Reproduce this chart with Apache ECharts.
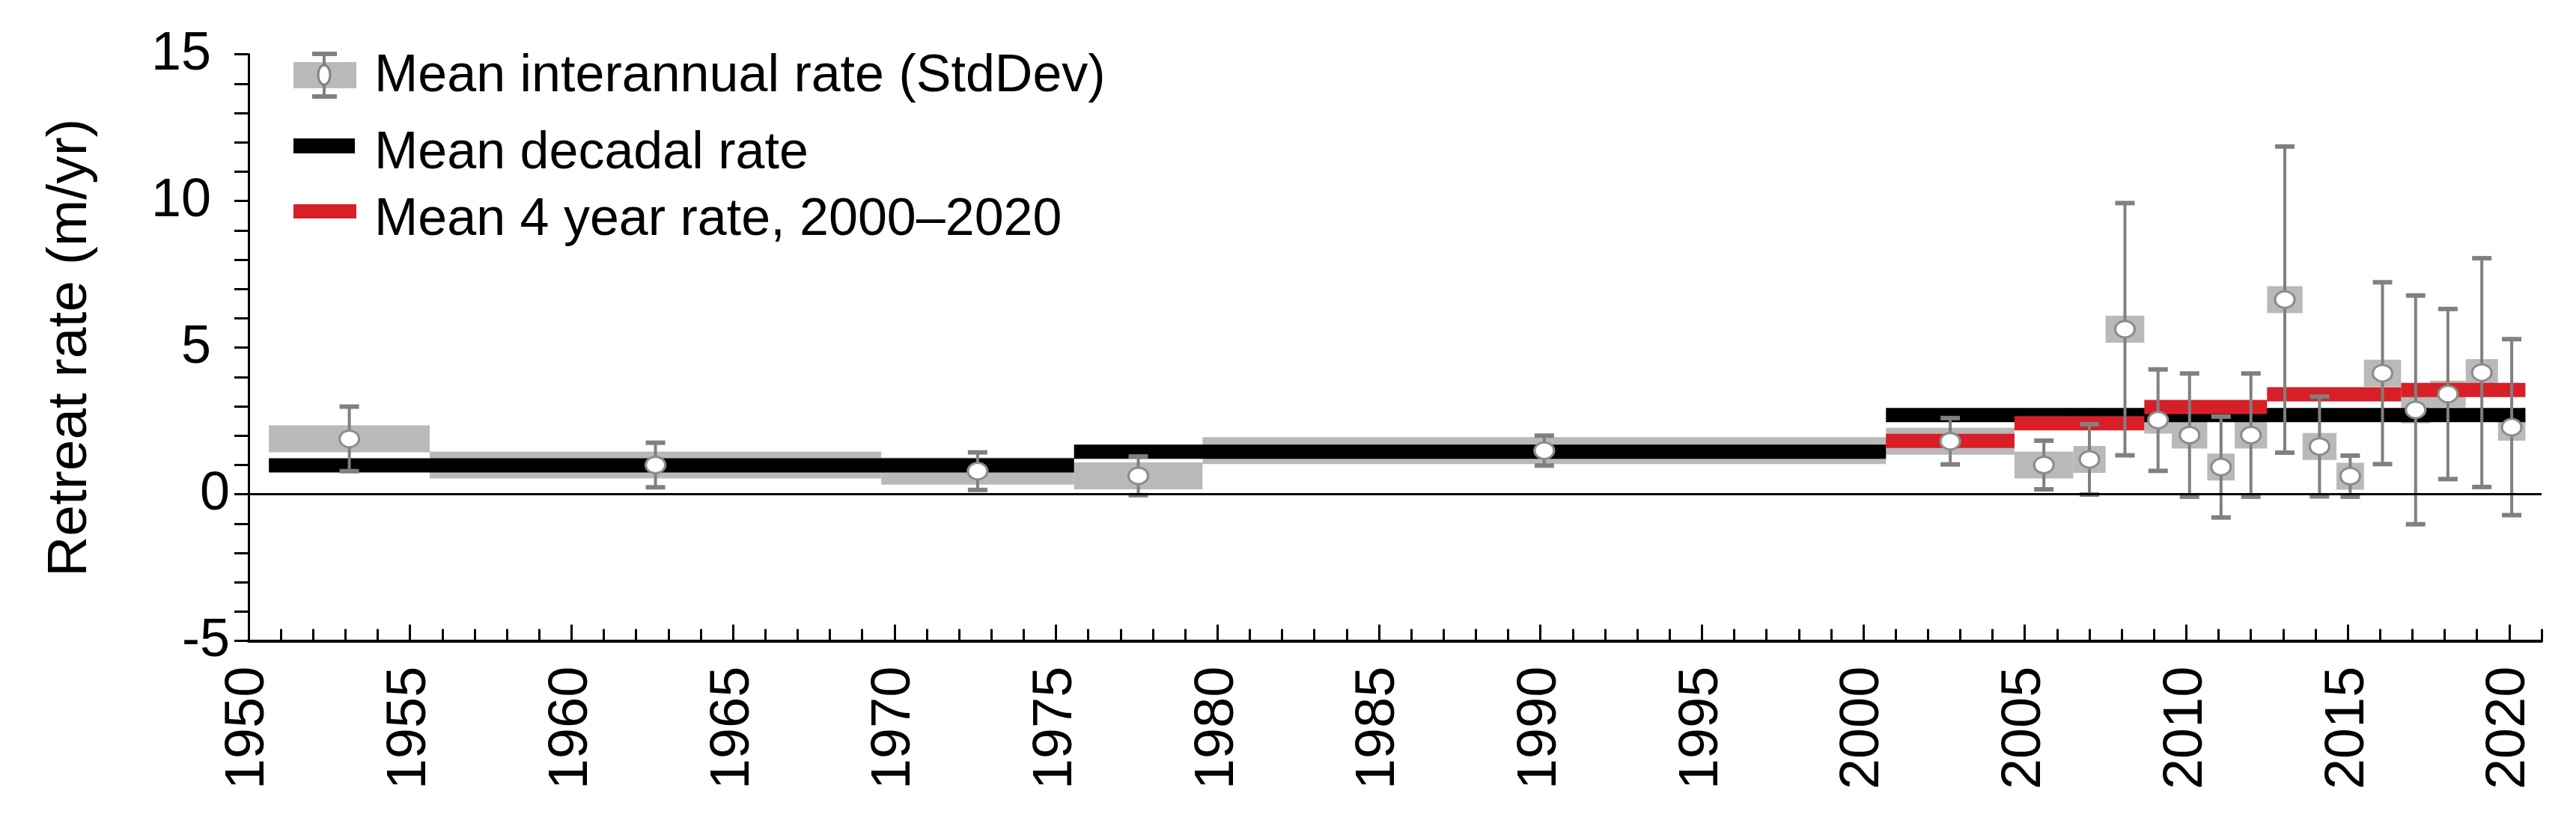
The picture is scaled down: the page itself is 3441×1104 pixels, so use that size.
<!DOCTYPE html>
<html>
<head>
<meta charset="utf-8">
<script src="https://cdn.jsdelivr.net/npm/echarts@6/dist/echarts.min.js"></script>
<style>
  html, body { margin: 0; padding: 0; background: #fff; }
  #chart { width: 3441px; height: 1104px; }
</style>
</head>
<body>
<div id="chart"></div>
<script>
// interannual periods (decimal years), mean retreat rate and std dev (m/yr)
const periodStart = [1950.63, 1955.61, 1969.59, 1975.56, 1979.54, 2000.70, 2004.68, 2006.50, 2007.50, 2008.70, 2009.55,
  2010.65, 2011.50, 2012.50, 2013.60, 2014.65, 2015.50, 2016.65, 2017.55, 2018.65, 2019.65];
const periodEnd = [1955.61, 1969.59, 1975.56, 1979.54, 2000.70, 2004.68, 2006.50, 2007.50, 2008.70, 2009.55, 2010.65,
  2011.50, 2012.50, 2013.60, 2014.65, 2015.50, 2016.65, 2017.55, 2018.65, 2019.65, 2020.50];
const meanRate = [1.89, 1.00, 0.79, 0.63, 1.49, 1.81, 1.00, 1.19, 5.63, 2.53, 2.02,
  0.93, 2.02, 6.64, 1.63, 0.62, 4.13, 2.88, 3.42, 4.15, 2.29];
const stdDev = [1.10, 0.76, 0.64, 0.66, 0.51, 0.79, 0.83, 1.20, 4.30, 1.73, 2.10,
  1.72, 2.10, 5.22, 1.70, 0.70, 3.10, 3.90, 2.90, 3.90, 3.00];

// decadal means
const decadeStart = [1950.63, 1975.56, 2000.70];
const decadeEnd = [1975.56, 2000.70, 2020.50];
const decadeRate = [0.99, 1.45, 2.70];

// 4 year means 2000-2020
const fourYearStart = [2000.70, 2004.68, 2008.70, 2012.50, 2016.65];
const fourYearEnd = [2004.68, 2008.70, 2012.50, 2016.65, 2020.50];
const fourYearRate = [1.82, 2.42, 2.98, 3.41, 3.56];

const yearLabels = [1950, 1955, 1960, 1965, 1970, 1975, 1980, 1985, 1990, 1995, 2000, 2005, 2010, 2015, 2020];

const FONT = "'Liberation Sans', Arial, sans-serif";
const BOX_GREY = '#b9b9b9';
const BAR_GREY = '#808080';
const RED = '#d71f27';

// one small tick per year along the time axis
const yearTicks = [];
for (let y = 1950; y <= 2021; y++) yearTicks.push(y);

const boxData = periodStart.map((s, i) => [s, periodEnd[i], meanRate[i]]);
const pointData = periodStart.map((s, i) => [(s + periodEnd[i]) / 2, meanRate[i], stdDev[i]]);
const decadeData = decadeStart.map((s, i) => [s, decadeEnd[i], decadeRate[i]]);
const fourYearData = fourYearStart.map((s, i) => [s, fourYearEnd[i], fourYearRate[i]]);

// horizontal band from value(0) to value(1) at height value(2)
function spanItem(thick, color) {
  return function (params, api) {
    const a = api.coord([api.value(0), api.value(2)]);
    const b = api.coord([api.value(1), api.value(2)]);
    return {
      type: 'rect',
      shape: { x: a[0], y: a[1] - thick / 2, width: b[0] - a[0], height: thick },
      style: { fill: color }
    };
  };
}

function errorBarItem(params, api) {
  const x = api.value(0), m = api.value(1), s = api.value(2);
  const top = api.coord([x, m + s]);
  const bot = api.coord([x, m - s]);
  const cap = 13;
  const st = { stroke: BAR_GREY, lineWidth: 4 };
  const capSt = { stroke: BAR_GREY, lineWidth: 6 };
  return {
    type: 'group',
    children: [
      { type: 'line', shape: { x1: top[0], y1: top[1], x2: bot[0], y2: bot[1] }, style: st },
      { type: 'line', shape: { x1: top[0] - cap, y1: top[1], x2: top[0] + cap, y2: top[1] }, style: capSt },
      { type: 'line', shape: { x1: bot[0] - cap, y1: bot[1], x2: bot[0] + cap, y2: bot[1] }, style: capSt }
    ]
  };
}

const chart = echarts.init(document.getElementById('chart'), null, { renderer: 'canvas' });

const option = {
  animation: false,
  backgroundColor: '#fff',
  textStyle: { fontFamily: FONT },
  grid: { left: 332, right: 46, top: 72.7, bottom: 247.3, containLabel: false },
  xAxis: [
    {
      type: 'value', position: 'bottom', min: 1950, max: 2021, interval: 1,
      axisLine: { show: true, onZero: false, lineStyle: { color: '#000', width: 4 } },
      axisTick: { show: true, inside: true, length: 16, customValues: yearTicks, lineStyle: { color: '#000', width: 3 } },
      axisLabel: { show: false },
      splitLine: { show: false }
    },
    {
      type: 'value', position: 'bottom', min: 1950, max: 2021,
      axisLine: { show: false, onZero: false },
      axisTick: { show: true, inside: true, length: 22, customValues: yearLabels, lineStyle: { color: '#000', width: 3 } },
      axisLabel: {
        show: true, customValues: yearLabels, rotate: 90, margin: 34,
        fontSize: 74, color: '#000', fontFamily: FONT,
        formatter: v => String(v)
      },
      splitLine: { show: false }
    }
  ],
  yAxis: {
    type: 'value', min: -5, max: 15, interval: 5,
    name: 'Retreat rate (m/yr)', nameLocation: 'middle', nameRotate: 90, nameGap: 200,
    nameTextStyle: { fontSize: 75, color: '#000', fontFamily: FONT },
    axisLine: { show: true, onZero: false, lineStyle: { color: '#000', width: 3 } },
    axisTick: { show: true, length: 19, lineStyle: { color: '#000', width: 3 } },
    minorTick: { show: true, splitNumber: 5, length: 19, lineStyle: { color: '#000', width: 3 } },
    axisLabel: {
      margin: 25, fontSize: 72, color: '#000', fontFamily: FONT,
      formatter: v => (v > 0 ? '{p|' + v + '}' : String(v)),
      rich: { p: { fontSize: 72, fontFamily: FONT, color: '#000', padding: [0, 25, 0, 0] } }
    },
    splitLine: { show: false }
  },
  graphic: [
    { type: 'rect', shape: { x: 392, y: 83, width: 84, height: 35 }, style: { fill: BOX_GREY } },
    { type: 'line', shape: { x1: 433, y1: 72, x2: 433, y2: 129 }, style: { stroke: BAR_GREY, lineWidth: 4 } },
    { type: 'line', shape: { x1: 417, y1: 72, x2: 450, y2: 72 }, style: { stroke: BAR_GREY, lineWidth: 6 } },
    { type: 'line', shape: { x1: 417, y1: 129, x2: 450, y2: 129 }, style: { stroke: BAR_GREY, lineWidth: 6 } },
    { type: 'ellipse', shape: { cx: 433, cy: 100, rx: 8, ry: 13 }, style: { fill: '#fff', stroke: BAR_GREY, lineWidth: 3 } },
    { type: 'text', x: 500, y: 103, style: { text: 'Mean interannual rate (StdDev)', fontSize: 70, fontFamily: FONT, fill: '#000', verticalAlign: 'middle' } },
    { type: 'rect', shape: { x: 392, y: 185, width: 82, height: 20 }, style: { fill: '#000' } },
    { type: 'text', x: 500, y: 206, style: { text: 'Mean decadal rate', fontSize: 70, fontFamily: FONT, fill: '#000', verticalAlign: 'middle' } },
    { type: 'rect', shape: { x: 392, y: 273, width: 84, height: 19 }, style: { fill: RED } },
    { type: 'text', x: 500, y: 295, style: { text: 'Mean 4 year rate, 2000\u20132020', fontSize: 70, fontFamily: FONT, fill: '#000', verticalAlign: 'middle' } }
  ],
  series: [
    {
      name: 'Mean interannual rate (StdDev)',
      type: 'custom', z: 1, xAxisIndex: 0,
      renderItem: spanItem(36, BOX_GREY),
      encode: { x: [0, 1], y: 2 },
      data: boxData,
      markLine: {
        silent: true, symbol: 'none', label: { show: false },
        lineStyle: { color: '#000', width: 3, type: 'solid' },
        data: [{ yAxis: 0 }]
      }
    },
    {
      name: 'Mean decadal rate',
      type: 'custom', z: 2, xAxisIndex: 0,
      renderItem: spanItem(19, '#000'),
      encode: { x: [0, 1], y: 2 },
      data: decadeData
    },
    {
      name: 'Mean 4 year rate, 2000\u20132020',
      type: 'custom', z: 3, xAxisIndex: 0,
      renderItem: spanItem(19, RED),
      encode: { x: [0, 1], y: 2 },
      data: fourYearData
    },
    {
      name: 'StdDev',
      type: 'custom', z: 4, xAxisIndex: 0,
      renderItem: errorBarItem,
      encode: { x: 0, y: 1 },
      data: pointData
    },
    {
      name: 'Mean',
      type: 'scatter', z: 5, xAxisIndex: 0,
      symbol: 'circle', symbolSize: [26, 22],
      itemStyle: { color: '#fff', borderColor: '#8c8c8c', borderWidth: 3, opacity: 1 },
      data: pointData.map(p => [p[0], p[1]])
    }
  ]
};

chart.setOption(option);
</script>
</body>
</html>
